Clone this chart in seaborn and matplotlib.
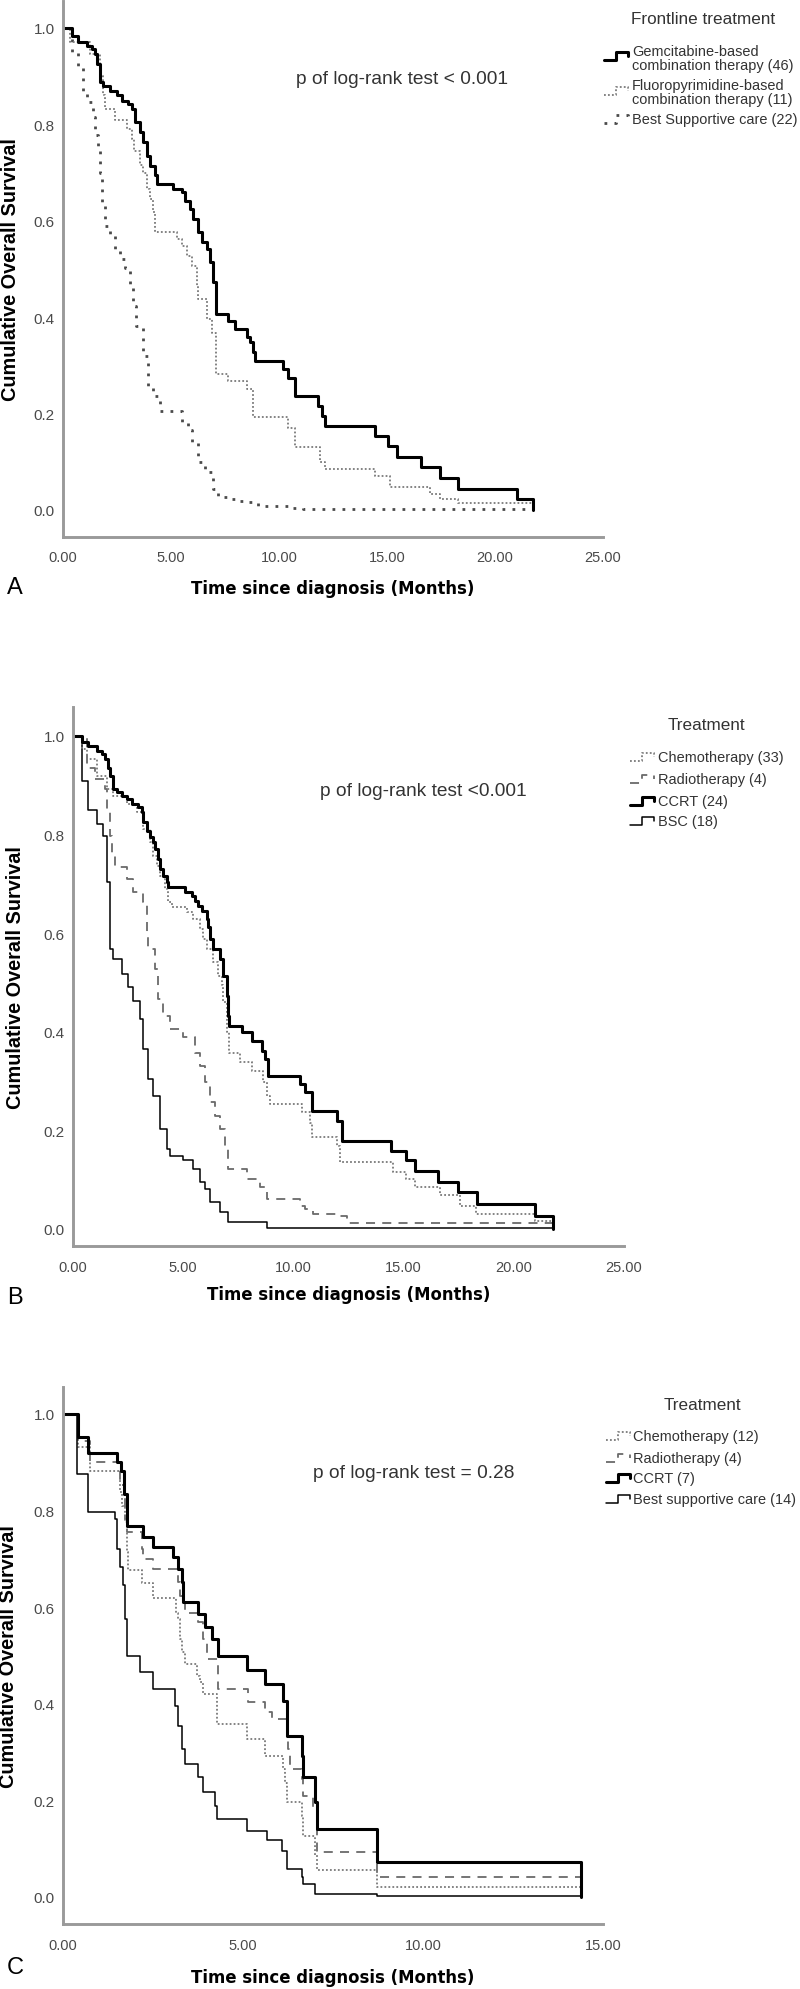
import matplotlib
matplotlib.use("Agg")
import matplotlib.pyplot as plt
from matplotlib.lines import Line2D
import seaborn as sns
import pandas as pd

sns.set_theme(style="white")
plt.rcParams['font.family'] = ['Liberation Sans', 'DejaVu Sans']

W, H = 800, 1990

# ---- Panel A: frontline treatment ----
A_GEM_T = [0, 0.40, 0.71, 1.10, 1.33, 1.48, 1.56, 1.71, 1.87, 2.18, 2.49, 2.71, 3.02, 3.18, 3.33, 3.56, 3.72,
           3.87, 4.03, 4.26, 4.34, 5.11, 5.49, 5.65, 5.88, 6.03, 6.26, 6.42, 6.65, 6.81, 6.96, 7.08, 7.65, 7.96,
           8.50, 8.67, 8.81, 8.90, 10.20, 10.43, 10.74, 11.80, 11.98, 12.13, 14.44, 15.06, 15.45, 16.56, 17.45,
           18.30, 21.00, 21.77]
A_GEM_S = [1.0, 0.983, 0.970, 0.963, 0.956, 0.946, 0.925, 0.887, 0.879, 0.870, 0.860, 0.849, 0.842, 0.832, 0.804,
           0.784, 0.763, 0.735, 0.714, 0.694, 0.676, 0.666, 0.659, 0.642, 0.624, 0.604, 0.576, 0.555, 0.541, 0.514,
           0.472, 0.407, 0.393, 0.376, 0.358, 0.348, 0.327, 0.310, 0.293, 0.274, 0.236, 0.216, 0.196, 0.174, 0.154,
           0.133, 0.109, 0.089, 0.066, 0.044, 0.023, 0.0]
A_FLU_T = [0, 0.32, 1.25, 1.71, 1.85, 1.95, 2.40, 2.95, 3.18, 3.30, 3.55, 3.72, 3.90, 4.03, 4.15, 4.26, 5.26, 5.49,
           5.72, 5.96, 6.19, 6.26, 6.65, 6.88, 7.08, 7.65, 8.50, 8.81, 10.40, 10.74, 11.90, 12.13, 14.44, 15.14,
           17.00, 17.45, 18.30, 21.77]
A_FLU_S = [1.0, 0.970, 0.946, 0.901, 0.860, 0.832, 0.810, 0.790, 0.770, 0.745, 0.715, 0.700, 0.665, 0.645, 0.618,
           0.576, 0.562, 0.548, 0.527, 0.507, 0.465, 0.438, 0.396, 0.368, 0.282, 0.268, 0.251, 0.192, 0.170, 0.130,
           0.100, 0.085, 0.071, 0.048, 0.033, 0.023, 0.015, 0.0]
A_BSC_T = [0, 0.40, 0.71, 0.94, 1.10, 1.40, 1.50, 1.60, 1.70, 1.79, 1.94, 2.18, 2.41, 2.64, 2.87, 3.10, 3.26, 3.40,
           3.72, 3.95, 4.18, 4.49, 5.49, 5.80, 5.96, 6.26, 6.57, 6.96, 7.19, 7.65, 8.10, 8.58, 9.04, 10.60, 11.10,
           21.77]
A_BSC_S = [1.0, 0.950, 0.922, 0.867, 0.846, 0.815, 0.777, 0.748, 0.700, 0.631, 0.590, 0.569, 0.541, 0.521, 0.503,
           0.465, 0.424, 0.382, 0.320, 0.258, 0.237, 0.206, 0.182, 0.165, 0.140, 0.099, 0.078, 0.044, 0.026, 0.023,
           0.019, 0.016, 0.009, 0.005, 0.002, 0.0]
A_LABELS = [["Gemcitabine-based", "combination therapy (46)"],
            ["Fluoropyrimidine-based", "combination therapy (11)"],
            ["Best Supportive care (22)"]]

# ---- Panel B: treatment ----
B_CHEMO_T = [0, 0.39, 0.62, 1.07, 1.53, 1.83, 2.43, 2.89, 3.19, 3.49, 3.64, 3.79, 3.94, 4.17, 4.32, 4.48, 5.16,
             5.46, 5.76, 5.91, 6.06, 6.36, 6.59, 6.74, 6.82, 6.97, 7.09, 7.57, 8.10, 8.63, 8.78, 8.93, 10.37,
             10.75, 10.83, 11.96, 12.10, 14.53, 15.13, 15.50, 16.64, 17.55, 18.30, 20.95, 21.78]
B_CHEMO_S = [1.0, 0.974, 0.953, 0.919, 0.892, 0.879, 0.862, 0.845, 0.811, 0.784, 0.757, 0.737, 0.717, 0.690,
             0.663, 0.653, 0.642, 0.629, 0.609, 0.588, 0.568, 0.541, 0.514, 0.494, 0.460, 0.399, 0.358, 0.338,
             0.321, 0.298, 0.270, 0.254, 0.237, 0.216, 0.186, 0.169, 0.135, 0.115, 0.101, 0.085, 0.068, 0.047,
             0.030, 0.017, 0.0]
B_RADIO_T = [0, 0.62, 1.00, 1.45, 1.53, 1.68, 1.75, 1.90, 2.43, 2.73, 3.19, 3.34, 3.42, 3.72, 3.87, 4.10, 4.40,
             5.00, 5.53, 5.76, 5.99, 6.21, 6.44, 6.67, 6.89, 7.04, 7.88, 8.48, 8.78, 10.29, 10.52, 10.90, 11.96,
             12.41, 21.78]
B_RADIO_S = [1.0, 0.935, 0.913, 0.892, 0.852, 0.798, 0.757, 0.734, 0.710, 0.683, 0.663, 0.602, 0.568, 0.527,
             0.467, 0.433, 0.406, 0.389, 0.358, 0.331, 0.298, 0.257, 0.230, 0.203, 0.162, 0.122, 0.101, 0.085,
             0.061, 0.047, 0.041, 0.030, 0.027, 0.012, 0.0]
B_CCRT_T = [0, 0.39, 0.69, 1.07, 1.30, 1.45, 1.60, 1.68, 1.83, 1.98, 2.21, 2.43, 2.66, 2.96, 3.11, 3.19, 3.34,
            3.49, 3.64, 3.72, 3.87, 3.94, 4.10, 4.25, 4.32, 5.08, 5.38, 5.53, 5.68, 5.84, 6.06, 6.14, 6.21, 6.36,
            6.67, 6.82, 6.97, 7.04, 7.09, 7.65, 8.10, 8.56, 8.71, 8.86, 10.29, 10.52, 10.83, 11.96, 12.19, 14.45,
            15.13, 15.50, 16.57, 17.47, 18.31, 20.95, 21.78]
B_CCRT_S = [1.0, 0.987, 0.980, 0.970, 0.963, 0.953, 0.936, 0.919, 0.892, 0.886, 0.879, 0.872, 0.862, 0.855,
            0.845, 0.825, 0.808, 0.795, 0.784, 0.771, 0.751, 0.730, 0.717, 0.703, 0.693, 0.683, 0.676, 0.666,
            0.656, 0.646, 0.629, 0.612, 0.588, 0.568, 0.548, 0.514, 0.473, 0.433, 0.412, 0.399, 0.382, 0.362,
            0.345, 0.311, 0.294, 0.277, 0.240, 0.220, 0.179, 0.159, 0.139, 0.118, 0.095, 0.075, 0.051, 0.027, 0.0]
B_BSC_T = [0, 0.39, 0.69, 1.07, 1.38, 1.53, 1.68, 1.83, 2.21, 2.51, 2.73, 3.04, 3.19, 3.42, 3.64, 3.94, 4.25,
           4.40, 5.00, 5.46, 5.76, 5.99, 6.21, 6.67, 7.04, 8.78, 21.78]
B_BSC_S = [1.0, 0.909, 0.849, 0.822, 0.798, 0.703, 0.568, 0.548, 0.517, 0.490, 0.463, 0.426, 0.365, 0.304,
           0.270, 0.203, 0.162, 0.149, 0.139, 0.122, 0.095, 0.081, 0.054, 0.034, 0.014, 0.003, 0.0]
B_LABELS = ["Chemotherapy (33)", "Radiotherapy (4)", "CCRT (24)", "BSC (18)"]

# ---- Panel C: treatment ----
C_CHEMO_T = [0, 0.43, 0.75, 1.59, 1.63, 1.72, 1.77, 1.81, 2.19, 2.51, 3.15, 3.20, 3.25, 3.30, 3.39, 3.71, 3.81,
             3.90, 4.27, 5.10, 5.61, 6.12, 6.16, 6.21, 6.63, 6.68, 7.00, 7.05, 8.71, 14.40]
C_CHEMO_S = [1.0, 0.932, 0.883, 0.838, 0.810, 0.776, 0.714, 0.676, 0.651, 0.620, 0.589, 0.576, 0.534, 0.507,
             0.482, 0.458, 0.445, 0.420, 0.358, 0.327, 0.292, 0.265, 0.237, 0.196, 0.168, 0.127, 0.086, 0.055,
             0.020, 0.0]
C_RADIO_T = [0, 0.43, 0.75, 1.58, 1.72, 1.77, 2.19, 2.23, 2.51, 3.20, 3.25, 3.30, 3.39, 3.76, 3.90, 3.99, 4.31,
             5.15, 5.61, 5.80, 6.21, 6.25, 6.30, 6.63, 6.68, 6.95, 7.05, 8.71, 14.40]
C_RADIO_S = [1.0, 0.945, 0.901, 0.852, 0.783, 0.755, 0.720, 0.700, 0.679, 0.652, 0.624, 0.610, 0.589, 0.569,
             0.534, 0.493, 0.431, 0.403, 0.382, 0.369, 0.334, 0.306, 0.265, 0.244, 0.210, 0.182, 0.093, 0.041, 0.0]
C_CCRT_T = [0, 0.43, 0.70, 1.49, 1.60, 1.70, 1.77, 2.23, 2.51, 3.06, 3.20, 3.30, 3.34, 3.76, 3.94, 4.13, 4.31,
            5.10, 5.61, 6.12, 6.21, 6.63, 6.68, 7.00, 7.05, 8.71, 14.40]
C_CCRT_S = [1.0, 0.952, 0.920, 0.900, 0.883, 0.834, 0.768, 0.745, 0.724, 0.703, 0.679, 0.652, 0.610, 0.586,
            0.558, 0.534, 0.500, 0.469, 0.441, 0.406, 0.334, 0.292, 0.248, 0.196, 0.141, 0.072, 0.0]
C_BSC_T = [0, 0.38, 0.70, 1.44, 1.49, 1.58, 1.68, 1.72, 1.77, 2.14, 2.51, 3.11, 3.20, 3.30, 3.39, 3.76, 3.90,
           4.22, 4.27, 5.10, 5.66, 6.07, 6.21, 6.63, 6.68, 7.00, 8.71, 14.40]
C_BSC_S = [1.0, 0.876, 0.798, 0.783, 0.720, 0.683, 0.645, 0.576, 0.500, 0.465, 0.431, 0.396, 0.355, 0.306,
           0.275, 0.248, 0.217, 0.189, 0.161, 0.137, 0.117, 0.096, 0.058, 0.041, 0.027, 0.006, 0.003, 0.0]
C_LABELS = ["Chemotherapy (12)", "Radiotherapy (4)", "CCRT (7)", "Best supportive care (14)"]

# line styles
STYLES = {
    'thick': dict(color='black', lw=2.2, ls='-'),
    'thin': dict(color='black', lw=1.1, ls='-'),
    'dot': dict(color='#7a7a7a', lw=1.3, ls=(0, (1, 1.2))),
    'bigdot': dict(color='#4a4a4a', lw=2.0, ls=(0, (1, 2.6))),
    'dash': dict(color='#6a6a6a', lw=1.3, ls=(0, (5, 4))),
}

fig = plt.figure(figsize=(W / 100, H / 100), dpi=100)
renderer = fig.canvas.get_renderer()


def fit_size(s, target_px, **kw):
    # font size that gives the text the width measured on the reference
    t = fig.text(0, 0, s, fontsize=10, **kw)
    w = t.get_window_extent(renderer=renderer).width
    t.remove()
    return 10 * target_px / w


P_SIZE = fit_size("p of log-rank test < 0.001", 212)
TITLE_SIZE = fit_size("Frontline treatment", 145)
LEG_SIZE = fit_size("combination therapy (46)", 161)
XLAB_SIZE = fit_size("Time since diagnosis (Months)", 284, fontweight='bold', family=['DejaVu Sans'])
YLAB_SIZE = fit_size("Cumulative Overall Survival", 263, fontweight='bold')


def px_axes(left, right, top, bottom):
    return fig.add_axes([left / W, 1 - bottom / H, (right - left) / W, (bottom - top) / H])


def fx(x):
    return x / W


def fy(y):
    return 1 - y / H


def draw_curves(ax, groups):
    for t, s, key in groups:
        st = STYLES[key]
        df = pd.DataFrame({'time': t, 'survival': s})
        sns.lineplot(data=df, x='time', y='survival', ax=ax, estimator=None, sort=False,
                     drawstyle='steps-post', color=st['color'], linewidth=st['lw'],
                     linestyle=st['ls'], legend=False)


def style_axes(ax, xmax, ylim):
    ax.set_xlim(0, xmax)
    ax.set_ylim(*ylim)
    ax.set_xlabel('')
    ax.set_ylabel('')
    xt = list(range(0, int(xmax) + 1, 5))
    ax.set_xticks(xt)
    ax.set_xticklabels([f"{v:.2f}" for v in xt])
    yt = [0.0, 0.2, 0.4, 0.6, 0.8, 1.0]
    ax.set_yticks(yt)
    ax.set_yticklabels([f"{v:.1f}" for v in yt])
    for side in ['top', 'right']:
        ax.spines[side].set_visible(False)
    for side in ['left', 'bottom']:
        ax.spines[side].set_color('#9a9a9a')
        ax.spines[side].set_linewidth(2.1)
    ax.tick_params(axis='both', direction='out', length=4, width=1, color='#777777',
                   labelcolor='#4a4a4a')
    ax.tick_params(axis='x', pad=6, labelsize=10.5)
    ax.tick_params(axis='y', pad=2, labelsize=11)
    ax.set_facecolor('white')


def legend_handle(x0, yc, key):
    st = STYLES[key]
    xs = [x0, x0 + 12, x0 + 12, x0 + 24, x0 + 24]
    ys = [yc + 4, yc + 4, yc - 4, yc - 4, yc]
    fig.add_artist(Line2D([fx(v) for v in xs], [fy(v) for v in ys], transform=fig.transFigure,
                          color=st['color'], linewidth=st['lw'], linestyle=st['ls']))


def labels(ylab_x, ax_top, ax_bottom, ax_left, ax_right, xlab_y, letter, letter_y):
    fig.text(fx(ylab_x), fy((ax_top + ax_bottom) / 2), "Cumulative Overall Survival", rotation=90,
             ha='center', va='center', fontsize=YLAB_SIZE, fontweight='bold', color='black')
    fig.text(fx((ax_left + ax_right) / 2), fy(xlab_y), "Time since diagnosis (Months)",
             ha='center', va='center', fontsize=XLAB_SIZE, fontweight='bold', color='black',
             family=['DejaVu Sans'])
    fig.text(fx(15), fy(letter_y), letter, ha='center', va='center', fontsize=17, color='black')


def panel_axes(left, right, zero_y, unit_px, ylim):
    top = zero_y - ylim[1] * unit_px
    bottom = zero_y - ylim[0] * unit_px
    return px_axes(left, right, top, bottom), top, bottom


# ---------------- Panel A ----------------
ylimA = (-0.055, 1.057)
axA, topA, botA = panel_axes(63, 603, 511, 482, ylimA)
draw_curves(axA, [(A_BSC_T, A_BSC_S, 'bigdot'), (A_FLU_T, A_FLU_S, 'dot'), (A_GEM_T, A_GEM_S, 'thick')])
style_axes(axA, 25, ylimA)
labels(11, topA, botA, 63, 603, 589, "A", 588)
fig.text(fx(296), fy(80), "p of log-rank test < 0.001", ha='left', va='center', fontsize=P_SIZE, color='#333333')
fig.text(fx(703), fy(19), "Frontline treatment", ha='center', va='center', fontsize=TITLE_SIZE, color='#333333')
for (lines, yl, yh, key) in [(A_LABELS[0], 52, 57, 'thick'), (A_LABELS[1], 86, 92, 'dot'),
                             (A_LABELS[2], 120, 120, 'bigdot')]:
    legend_handle(604, yh, key)
    for i, ln in enumerate(lines):
        fig.text(fx(632), fy(yl + 14 * i), ln, ha='left', va='center', fontsize=LEG_SIZE, color='#333333')

# ---------------- Panel B ----------------
ylimB = (-0.034, 1.059)
axB, topB, botB = panel_axes(73, 624, 1230, 493, ylimB)
draw_curves(axB, [(B_RADIO_T, B_RADIO_S, 'dash'), (B_BSC_T, B_BSC_S, 'thin'),
                  (B_CHEMO_T, B_CHEMO_S, 'dot'), (B_CCRT_T, B_CCRT_S, 'thick')])
style_axes(axB, 25, ylimB)
labels(16, topB, botB, 73, 624, 1295, "B", 1298)
fig.text(fx(320), fy(792), "p of log-rank test <0.001", ha='left', va='center', fontsize=P_SIZE, color='#333333')
fig.text(fx(706), fy(726), "Treatment", ha='center', va='center', fontsize=TITLE_SIZE, color='#333333')
for lab, yl, key in zip(B_LABELS, [758, 780, 802, 822], ['dot', 'dash', 'thick', 'thin']):
    legend_handle(630, yl, key)
    fig.text(fx(658), fy(yl), lab, ha='left', va='center', fontsize=LEG_SIZE, color='#333333')

# ---------------- Panel C ----------------
ylimC = (-0.056, 1.056)
axC, topC, botC = panel_axes(63, 603, 1898, 483, ylimC)
draw_curves(axC, [(C_RADIO_T, C_RADIO_S, 'dash'), (C_CHEMO_T, C_CHEMO_S, 'dot'),
                  (C_BSC_T, C_BSC_S, 'thin'), (C_CCRT_T, C_CCRT_S, 'thick')])
style_axes(axC, 15, ylimC)
labels(9, topC, botC, 63, 603, 1978, "C", 1968)
fig.text(fx(313), fy(1473), "p of log-rank test = 0.28", ha='left', va='center', fontsize=P_SIZE, color='#333333')
fig.text(fx(702), fy(1406), "Treatment", ha='center', va='center', fontsize=TITLE_SIZE, color='#333333')
for lab, yl, key in zip(C_LABELS, [1437, 1459, 1479, 1500], ['dot', 'dash', 'thick', 'thin']):
    legend_handle(606, yl, key)
    fig.text(fx(633), fy(yl), lab, ha='left', va='center', fontsize=LEG_SIZE, color='#333333')

fig.savefig("out.png", dpi=100, facecolor='white')
